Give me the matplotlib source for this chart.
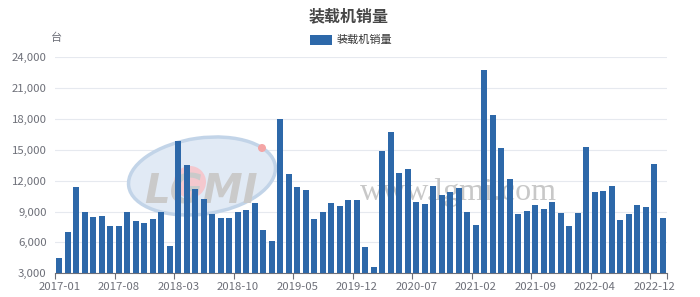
import matplotlib
matplotlib.use('Agg')
import matplotlib.pyplot as plt
from matplotlib.patches import Ellipse, Circle
from matplotlib.ticker import FuncFormatter

plt.rcParams['font.family'] = ['Noto Sans CJK SC', 'DejaVu Sans']

# monthly loader sales (units), 2017-01 .. end
sales_2017 = [4500, 7000, 11400, 9000, 8500, 8600, 7600, 7600, 9000, 8100, 7900, 8300]
sales_2018 = [9000, 5700, 15900, 13500, 11200, 10200, 8800, 8350, 8400, 9000, 9200, 9800]
sales_2019 = [7200, 6150, 18000, 12700, 11350, 11100, 8300, 9000, 9850, 9550, 10150, 10150]
sales_2020 = [5550, 3600, 14900, 16700, 12800, 13150, 9950, 9700, 11450, 10600, 10900, 11250]
sales_2021 = [8950, 7650, 22800, 18350, 15150, 12150, 8750, 9050, 9600, 9300, 9950, 8850]
sales_2022 = [7600, 8900, 15300, 10950, 11050, 11450, 8150, 8800, 9650, 9450, 13600, 8400]
sales = sales_2017 + sales_2018 + sales_2019 + sales_2020 + sales_2021 + sales_2022

# x labels as shown on the chart (every 7th category)
tick_labels = ['2017-01', '2017-08', '2018-03', '2018-10', '2019-05', '2019-12',
               '2020-07', '2021-02', '2021-09', '2022-04', '2022-12']
tick_pos = [i * 7 for i in range(len(tick_labels))]

title = '装载机销量'
series_name = '装载机销量'
unit = '台'

bar_color = '#2d68a9'
axis_gray = '#6e7079'

fig = plt.figure(figsize=(7, 2.97), dpi=100)
ax = fig.add_axes([55 / 700, 23.7 / 297, 612 / 700, 216 / 297])
ax.patch.set_visible(False)

# watermark (logo + url), sits behind the bars
px = fig.dpi_scale_trans
def P(x, y):
    return (x / 100, (297 - y) / 100)

ax.add_patch(Ellipse(P(202, 176), 1.48, 0.76, angle=8, transform=px,
                     facecolor='#e1eaf5', edgecolor='#c2d4e8', lw=2.5, zorder=1, clip_on=False))
ax.add_patch(Circle(P(190, 182), 0.16, transform=px, facecolor='#f4c8ce',
                    edgecolor='none', zorder=1.1, clip_on=False))
ax.add_patch(Circle(P(262, 148), 0.04, transform=px, facecolor='#f4a5a5',
                    edgecolor='none', zorder=1.1, clip_on=False))
ax.text(*P(201, 203), 'LGMI', transform=px, ha='center', va='baseline',
        fontsize=29, fontweight='bold', style='italic', color='#cacaca',
        family='DejaVu Sans', zorder=1.2, clip_on=False)
ax.text(*P(458, 200), 'www.lgmi.com', transform=px, ha='center', va='baseline',
        fontsize=23, color='#c8c8c8', family='Liberation Serif', zorder=1.2, clip_on=False)

ax.bar(range(len(sales)), sales, width=0.68, color=bar_color, zorder=3, label=series_name)

ax.set_xlim(-0.5, len(sales) - 0.5)
ax.set_ylim(3000, 24000)
ax.set_yticks(range(3000, 24001, 3000))
ax.yaxis.set_major_formatter(FuncFormatter(lambda v, p: f'{int(v):,}'))
ax.grid(axis='y', color='#e6e9ef', lw=0.8, zorder=0.5)
ax.set_axisbelow(True)

for s in ['top', 'right', 'left']:
    ax.spines[s].set_visible(False)
ax.spines['bottom'].set_color(axis_gray)
ax.spines['bottom'].set_linewidth(0.8)

ax.set_xticks(tick_pos)
ax.set_xticklabels(tick_labels)
ax.set_xticks([p - 0.5 for p in tick_pos] + [len(sales) - 0.5], minor=True)
ax.tick_params(axis='x', which='major', length=0, pad=6, labelsize=8.2, labelcolor=axis_gray)
ax.tick_params(axis='x', which='minor', length=4, width=0.8, color=axis_gray)
ax.tick_params(axis='y', length=0, pad=6, labelsize=8.2, labelcolor=axis_gray)

fig.text(349 / 700, 1 - 16 / 297, title, ha='center', va='center',
         fontsize=11.5, fontweight='bold', color='#464646')
fig.text(56 / 700, 1 - 38 / 297, unit, ha='center', va='center', fontsize=8, color=axis_gray)

leg = ax.legend(loc='center', bbox_to_anchor=(351 / 700, 1 - 40 / 297),
                bbox_transform=fig.transFigure, frameon=False, fontsize=8,
                handlelength=2.0, handleheight=1.0, handletextpad=0.4, borderpad=0)
for t in leg.get_texts():
    t.set_color('#333333')

fig.savefig('out.png', dpi=100)
